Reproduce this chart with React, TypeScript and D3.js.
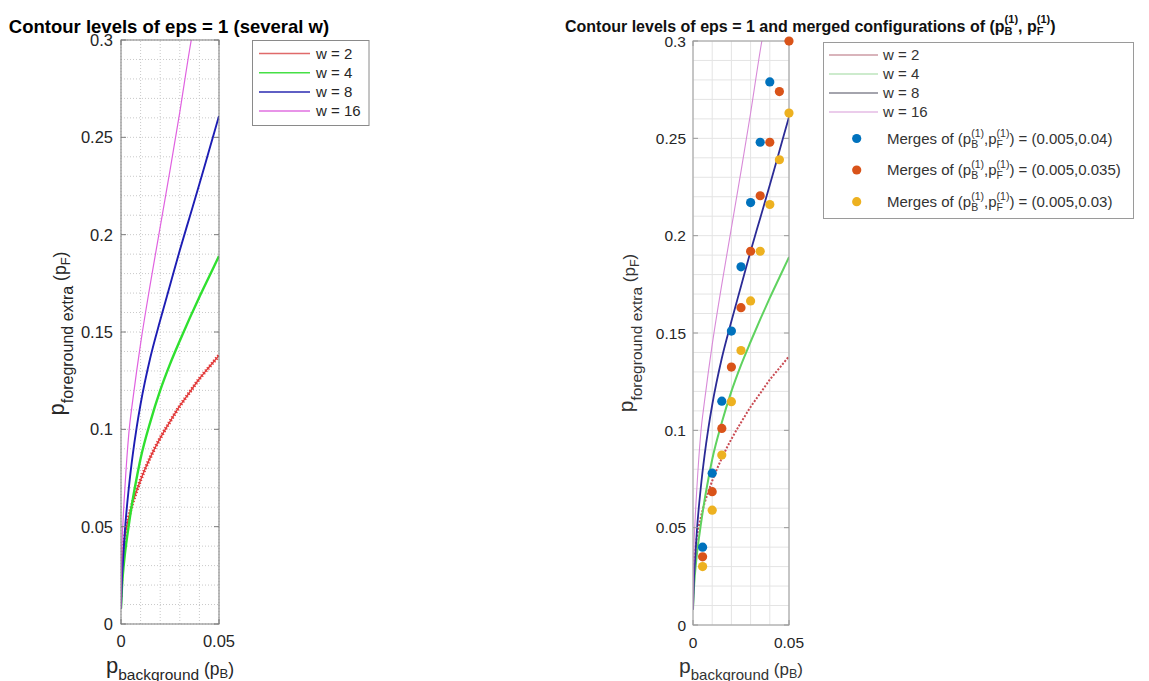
import React from "react";
import * as d3 from "d3";

// Sampled contour levels (eps = 1): p_F as a function of p_B for each window w
const pB = [0, 0.0005, 0.001, 0.002, 0.004, 0.006, 0.008, 0.01, 0.015, 0.02, 0.025, 0.03, 0.035, 0.04, 0.045, 0.05];
const pF_w2 = [0.014, 0.031, 0.037, 0.045, 0.055, 0.0625, 0.0685, 0.074, 0.0857, 0.0955, 0.104, 0.112, 0.119, 0.126, 0.132, 0.138];
const pF_w4 = [0.008, 0.019, 0.026, 0.036, 0.051, 0.064, 0.075, 0.085, 0.104, 0.12, 0.1335, 0.1455, 0.157, 0.168, 0.1785, 0.189];
const pF_w8 = [0.008, 0.024, 0.032, 0.048, 0.07, 0.087, 0.101, 0.113, 0.137, 0.156, 0.174, 0.192, 0.209, 0.226, 0.2435, 0.261];
const pB_w16 = [0, 0.0005, 0.001, 0.002, 0.004, 0.006, 0.008, 0.01, 0.015, 0.02, 0.025, 0.03, 0.035, 0.04];
const pF_w16 = [0.008, 0.04, 0.052, 0.07, 0.098, 0.115, 0.13, 0.144, 0.175, 0.204, 0.233, 0.263, 0.295, 0.323];

const wValues = [2, 4, 8, 16];

// Merged configurations, one series per starting point (p_B^(1), p_F^(1))
const mergePB = [0.005, 0.01, 0.015, 0.02, 0.025, 0.03, 0.035, 0.04, 0.045, 0.05];
const merge_004 = [0.04, 0.078, 0.115, 0.151, 0.184, 0.217, 0.248, 0.279];
const merge_0035 = [0.035, 0.0685, 0.101, 0.1325, 0.163, 0.192, 0.2205, 0.248, 0.274, 0.3];
const merge_003 = [0.03, 0.059, 0.0873, 0.1147, 0.141, 0.1665, 0.192, 0.216, 0.239, 0.263];
const mergeLabels = ["(0.005,0.04)", "(0.005,0.035)", "(0.005,0.03)"];

const xTicks = [0, 0.05];
const xTickLabels = ["0", "0.05"];
const yTicks = [0, 0.05, 0.1, 0.15, 0.2, 0.25, 0.3];
const yTickLabels = ["0", "0.05", "0.1", "0.15", "0.2", "0.25", "0.3"];

const FONT = '"Liberation Sans", Arial, Helvetica, sans-serif';

type Seg = { t: string; size: number; shift?: number; dx?: number; after?: number; weight?: string };

// Renders rich text; "after" moves the pen before the following segment
function renderSegs(list: Seg[]) {
  let prev = 0;
  let carry = 0;
  return list.map((s, i) => {
    const sh = s.shift ?? 0;
    const dy = sh - prev;
    prev = sh;
    const dx = (s.dx ?? 0) + carry;
    carry = s.after ?? 0;
    return (
      <tspan key={i} fontSize={s.size} dy={dy} dx={dx || undefined} fontWeight={s.weight}>
        {s.t}
      </tspan>
    );
  });
}

// lead text followed by a stacked superscript "(1)" and subscript letter
function stackedP(lead: string, sub: string, main: number, small: number, supShift: number, subShift: number, bold: boolean, subW: number): Seg[] {
  const w = bold ? "bold" : undefined;
  const supW = 1.222 * small;
  const sW = subW * small;
  return [
    { t: lead, size: main, shift: 0, weight: w },
    { t: "(1)", size: small, shift: supShift, weight: w },
    { t: sub, size: small, shift: subShift, dx: -supW, after: supW - sW, weight: w },
  ];
}

type Series = { xs: number[]; ys: number[]; color: string; width: number; dash?: string; teeth?: boolean };

function Panel(props: {
  x: d3.ScaleLinear<number, number>;
  y: d3.ScaleLinear<number, number>;
  id: string;
  series: Series[];
  gridColor: string;
  gridDash?: string;
  boxColor: string;
  tickFont: number;
  tickGap: number;
}) {
  const { x, y, id, series } = props;
  const [x0, x1] = x.range();
  const [y0, y1] = y.range();
  const gx = x.ticks(5);
  const gy = y.ticks(30);
  const lineGen = (s: Series) =>
    d3
      .line<number>()
      .x((_, i) => x(s.xs[i]))
      .y((d) => y(d))
      .curve(d3.curveMonotoneX)(s.ys) || "";
  const tl = 5;
  return (
    <g>
      <defs>
        <clipPath id={id}>
          <rect x={x0} y={y1} width={x1 - x0} height={y0 - y1} />
        </clipPath>
      </defs>
      <rect x={x0} y={y1} width={x1 - x0} height={y0 - y1} fill="#fff" />
      {gx.map((v, i) => (
        <line key={"gx" + i} x1={x(v)} x2={x(v)} y1={y0} y2={y1} stroke={props.gridColor} strokeWidth={1} strokeDasharray={props.gridDash} />
      ))}
      {gy.map((v, i) => (
        <line key={"gy" + i} x1={x0} x2={x1} y1={y(v)} y2={y(v)} stroke={props.gridColor} strokeWidth={1} strokeDasharray={props.gridDash} />
      ))}
      <g clipPath={`url(#${id})`}>
        {series.map((s, i) => (
          <g key={i}>
            <path d={lineGen(s)} fill="none" stroke={s.color} strokeWidth={s.width} strokeDasharray={s.dash} />
            {s.teeth && <path d={lineGen(s)} fill="none" stroke={s.color} strokeWidth={3.6} strokeDasharray="1.3 1.9" />}
          </g>
        ))}
      </g>
      <rect x={x0} y={y1} width={x1 - x0} height={y0 - y1} fill="none" stroke={props.boxColor} strokeWidth={1} />
      {yTicks.map((v, i) => (
        <g key={"yt" + i}>
          <line x1={x0} x2={x0 + tl} y1={y(v)} y2={y(v)} stroke={props.boxColor} />
          <line x1={x1} x2={x1 - tl} y1={y(v)} y2={y(v)} stroke={props.boxColor} />
          <text x={x0 - props.tickGap} y={y(v)} dy="0.36em" textAnchor="end" fontSize={props.tickFont} fill="#262626">
            {yTickLabels[i]}
          </text>
        </g>
      ))}
      {xTicks.map((v, i) => (
        <g key={"xt" + i}>
          <line x1={x(v)} x2={x(v)} y1={y0} y2={y0 - tl} stroke={props.boxColor} />
          <line x1={x(v)} x2={x(v)} y1={y1} y2={y1 + tl} stroke={props.boxColor} />
          <text x={x(v)} y={y0 + 23} textAnchor="middle" fontSize={props.tickFont} fill="#262626">
            {xTickLabels[i]}
          </text>
        </g>
      ))}
    </g>
  );
}

export default function App() {
  const xL = d3.scaleLinear().domain([0, 0.05]).range([121, 219]);
  const yL = d3.scaleLinear().domain([0, 0.3]).range([624, 40]);
  const xR = d3.scaleLinear().domain([0, 0.05]).range([693, 789]);
  const yR = d3.scaleLinear().domain([0, 0.3]).range([625, 41]);

  const leftColors = ["#e23a3a", "#2fe02f", "#1d1db4", "#e062e0"];
  const legendColorsL = ["#e06a6a", "#45e045", "#2a2ab0", "#e070e0"];
  const rightColors = ["#c94a52", "#5fd25f", "#2b2b96", "#d88ad8"];
  const legendColorsR = ["#b46a78", "#9bd89b", "#4a4a5c", "#d79ad7"];
  const curvesX = [pB, pB, pB, pB_w16];
  const curvesY = [pF_w2, pF_w4, pF_w8, pF_w16];

  const leftSeries: Series[] = curvesY.map((ys, i) => ({
    xs: curvesX[i],
    ys,
    color: leftColors[i],
    width: [1.4, 2.4, 1.9, 1.2][i],
    teeth: i === 0,
  }));
  const rightSeries: Series[] = curvesY.map((ys, i) => ({
    xs: curvesX[i],
    ys,
    color: rightColors[i],
    width: [2, 2, 1.8, 1.1][i],
    dash: i === 0 ? "2 1.6" : undefined,
  }));

  const markerColors = ["#0072BD", "#D95319", "#EDB120"];
  const merges = [merge_004, merge_0035, merge_003];

  const xLabel = (main: number, rest: number, subB: number): Seg[] => [
    { t: "p", size: main, shift: 0 },
    { t: "background", size: rest, shift: 7 },
    { t: " (p", size: rest + 2, shift: 1.5 },
    { t: "B", size: subB, shift: 5 },
    { t: ")", size: rest + 2, shift: 1.5 },
  ];
  const yLabel = (main: number, rest: number, subF: number): Seg[] => [
    { t: "p", size: main, shift: 0 },
    { t: "foreground extra", size: rest, shift: 9 },
    { t: " (p", size: rest + 1.5, shift: 2 },
    { t: "F", size: subF, shift: 6 },
    { t: ")", size: rest + 1.5, shift: 2 },
  ];

  const titleR: Seg[] = [
    ...stackedP("Contour levels of eps = 1 and merged configurations of (p", "B", 16, 11, -8.5, 3, true, 0.722),
    ...stackedP(", p", "F", 16, 11, -8.5, 3, true, 0.611),
    { t: ")", size: 16, shift: 0, weight: "bold" },
  ];

  const mergeText = (val: string): Seg[] => [
    ...stackedP("Merges of (p", "B", 15, 10.5, -7, 4, false, 0.667),
    ...stackedP(",p", "F", 15, 10.5, -7, 4, false, 0.611),
    { t: ") = " + val, size: 15, shift: 0 },
  ];

  const legLRows = [53.5, 72.7, 91.9, 111.1];
  const legRRows = [55, 74, 93, 112];
  const legRMerge = [138.5, 170, 201.7];

  return (
    <svg
      width={1149}
      height={681}
      style={{ position: "absolute", left: 0, top: 0, display: "block", background: "#fff" }}
      fontFamily={FONT}
    >
      <rect width={1149} height={681} fill="#fff" />

      {/* left panel: contour levels only */}
      <Panel x={xL} y={yL} id="clipL" series={leftSeries} gridColor="#c9c9c9" gridDash="1 2" boxColor="#7d7d7d" tickFont={16.5} tickGap={8} />
      <text x={169} y={33} textAnchor="middle" fontSize={18.5} fontWeight="bold" fill="#000">
        Contour levels of eps = 1 (several w)
      </text>
      <text x={170} y={673} textAnchor="middle" fill="#262626" style={{ whiteSpace: "pre" }}>
        {renderSegs(xLabel(22, 15.5, 13))}
      </text>
      <text transform="translate(64,333.5) rotate(-90)" textAnchor="middle" fill="#262626" style={{ whiteSpace: "pre" }}>
        {renderSegs(yLabel(22, 16, 13))}
      </text>
      <rect x={252.5} y={40.5} width={116.5} height={85} fill="#fff" stroke="#8a8a8a" />
      {wValues.map((w, i) => (
        <g key={"ll" + i}>
          <line x1={259} x2={310} y1={legLRows[i]} y2={legLRows[i]} stroke={legendColorsL[i]} strokeWidth={1.5} />
          <text x={316} y={legLRows[i] + 5.3} fontSize={15} fill="#262626">{`w = ${w}`}</text>
        </g>
      ))}

      {/* right panel: contour levels with merged configurations */}
      <Panel x={xR} y={yR} id="clipR" series={rightSeries} gridColor="#e4e4e4" boxColor="#9a9a9a" tickFont={15.5} tickGap={7} />
      {merges.map((ys, k) =>
        ys.map((v, i) => <circle key={`m${k}-${i}`} cx={xR(mergePB[i])} cy={yR(v)} r={4.6} fill={markerColors[k]} />)
      )}
      <text x={565} y={31.5} fill="#111" style={{ whiteSpace: "pre" }}>
        {renderSegs(titleR)}
      </text>
      <text x={741} y={673} textAnchor="middle" fill="#333" style={{ whiteSpace: "pre" }}>
        {renderSegs(xLabel(21, 15, 12.5))}
      </text>
      <text transform="translate(633,333) rotate(-90)" textAnchor="middle" fill="#333" style={{ whiteSpace: "pre" }}>
        {renderSegs(yLabel(21, 15.5, 12.5))}
      </text>
      <rect x={823.5} y={42.5} width={310} height={176} fill="#fff" stroke="#9a9a9a" />
      {wValues.map((w, i) => (
        <g key={"lr" + i}>
          <line x1={829} x2={878} y1={legRRows[i]} y2={legRRows[i]} stroke={legendColorsR[i]} strokeWidth={1.1} />
          <text x={883} y={legRRows[i] + 5.2} fontSize={15} fill="#333">{`w = ${w}`}</text>
        </g>
      ))}
      {mergeLabels.map((lab, k) => (
        <g key={"lm" + k}>
          <circle cx={856.7} cy={legRMerge[k]} r={4.6} fill={markerColors[k]} />
          <text x={887} y={legRMerge[k] + 5} fill="#333" style={{ whiteSpace: "pre" }}>
            {renderSegs(mergeText(lab))}
          </text>
        </g>
      ))}
    </svg>
  );
}
